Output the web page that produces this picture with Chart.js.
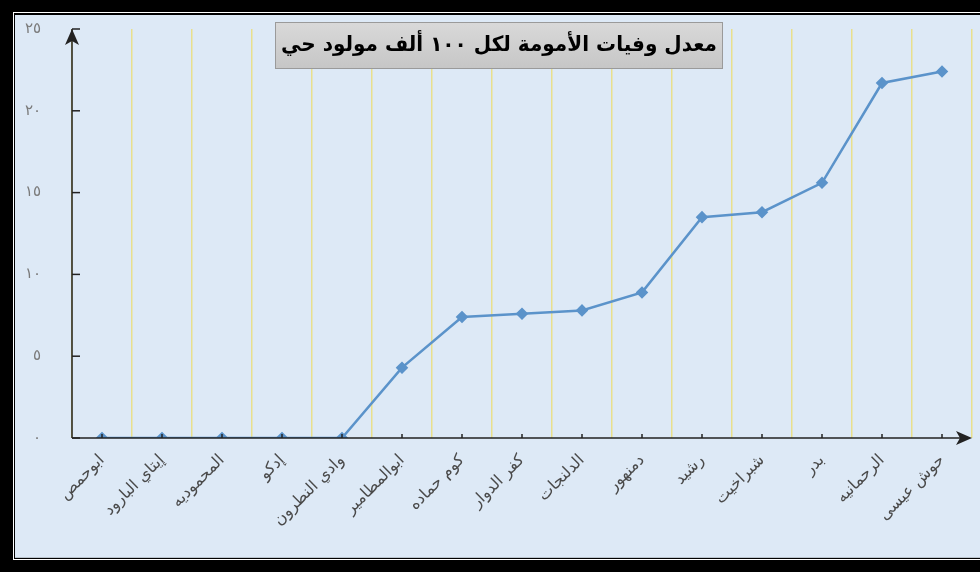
<!DOCTYPE html>
<html>
<head>
<meta charset="utf-8">
<script src="https://cdn.jsdelivr.net/npm/chart.js@4.4.1/dist/chart.umd.min.js"></script>
<style>
  html, body { margin: 0; padding: 0; background: #000; }
  #wrap { width: 980px; height: 572px; }
</style>
</head>
<body>
<div id="wrap"><canvas id="chart" width="980" height="572"></canvas></div>
<script>
// data
const districts = ['ابوحمص', 'إيتاي البارود', 'المحموديه', 'إدكو', 'وادي النطرون', 'ابوالمطامير', 'كوم حماده',
  'كفر الدوار', 'الدلنجات', 'دمنهور', 'رشيد', 'شبراخيت', 'بدر', 'الرحمانيه', 'حوش عيسى'];
const maternalDeaths = [0, 0, 0, 0, 0, 4.3, 7.4, 7.6, 7.8, 8.9, 13.5, 13.8, 15.6, 21.7, 22.4];
const yTicks = [0, 5, 10, 15, 20, 25];
const chartTitle = 'معدل وفيات الأمومة لكل ١٠٠ ألف مولود حي';

const arDigits = (v) => String(v).replace(/\d/g, d => '٠١٢٣٤٥٦٧٨٩'[d]);

const bg = '#dde9f6';
const lineColor = '#5b93ca';

// frame + background
const framePlugin = {
  id: 'frame',
  beforeDraw(chart) {
    const c = chart.ctx;
    c.save();
    c.fillStyle = '#000';
    c.fillRect(0, 0, 980, 572);
    c.fillStyle = '#fff';
    c.fillRect(13, 12, 967, 548);
    c.fillStyle = '#000';
    c.fillRect(14, 13, 966, 546);
    c.fillStyle = bg;
    c.fillRect(15, 15, 965, 543);
    c.fillStyle = '#b9c3cc';
    c.fillRect(15, 557, 965, 1);
    c.restore();
  }
};

// axis lines with arrows, inner tick marks, boxed title
const decoPlugin = {
  id: 'deco',
  afterDatasetsDraw(chart) {
    const c = chart.ctx;
    const x = chart.scales.x, y = chart.scales.y;
    const left = chart.chartArea.left, bottom = y.getPixelForValue(0);
    const top = y.getPixelForValue(25), right = chart.chartArea.right;
    c.save();
    c.strokeStyle = '#222';
    c.fillStyle = '#222';
    c.lineWidth = 1.5;
    c.beginPath();
    c.moveTo(left, bottom); c.lineTo(left, top);
    c.moveTo(left, bottom); c.lineTo(right - 4, bottom);
    c.stroke();
    // y tick marks (inside)
    yTicks.forEach(v => {
      const py = y.getPixelForValue(v);
      c.beginPath(); c.moveTo(left, py); c.lineTo(left + 8, py); c.stroke();
    });
    // x tick marks at categories
    districts.forEach((d, i) => {
      const px = x.getPixelForValue(i);
      c.beginPath(); c.moveTo(px, bottom); c.lineTo(px, bottom - 4); c.stroke();
    });
    // arrow heads
    c.beginPath();
    c.moveTo(left, top); c.lineTo(left + 7, top + 16); c.lineTo(left, top + 12); c.lineTo(left - 7, top + 16);
    c.closePath(); c.fill();
    c.beginPath();
    c.moveTo(right, bottom); c.lineTo(right - 16, bottom - 7); c.lineTo(right - 12, bottom); c.lineTo(right - 16, bottom + 7);
    c.closePath(); c.fill();

    // title box
    const g = c.createLinearGradient(0, 22, 0, 69);
    g.addColorStop(0, '#d9d9d9');
    g.addColorStop(1, '#c6c6c6');
    c.fillStyle = g;
    c.fillRect(275, 22, 448, 47);
    c.strokeStyle = '#9a9a9a';
    c.lineWidth = 1;
    c.strokeRect(275.5, 22.5, 447, 46);
    c.fillStyle = '#000';
    c.font = 'bold 21px "DejaVu Sans"';
    c.textAlign = 'center';
    c.textBaseline = 'middle';
    c.fillText(chartTitle, 499, 46, 436);
    c.restore();
  }
};

new Chart(document.getElementById('chart'), {
  type: 'line',
  data: {
    labels: districts,
    datasets: [{
      data: maternalDeaths,
      borderColor: lineColor,
      backgroundColor: lineColor,
      borderWidth: 2.5,
      pointStyle: 'rectRot',
      pointRadius: 4.5,
      tension: 0
    }]
  },
  options: {
    responsive: false,
    animation: false,
    layout: { padding: { left: 15, right: 8, top: 29, bottom: 15 } },
    plugins: { legend: { display: false }, tooltip: { enabled: false } },
    scales: {
      x: {
        offset: true,
        border: { display: false },
        grid: { offset: true, color: '#e9e08c', lineWidth: 1.5, drawTicks: false },
        ticks: {
          minRotation: 45, maxRotation: 45, padding: 13,
          color: '#4a4a4a', font: { family: 'DejaVu Sans', size: 16 }
        },
        afterFit: (s) => { s.height = 119; s.paddingLeft = 0; s.paddingRight = 0; }
      },
      y: {
        min: 0, max: 25,
        border: { display: false },
        grid: { display: false, drawTicks: false },
        ticks: {
          stepSize: 5, padding: 31, color: '#7a7a7a',
          font: { family: 'DejaVu Sans', size: 15 },
          callback: (v) => arDigits(v)
        },
        afterFit: (s) => { s.width = 57; s.paddingTop = 0; s.paddingBottom = 0; }
      }
    }
  },
  plugins: [framePlugin, decoPlugin]
});
</script>
</body>
</html>
